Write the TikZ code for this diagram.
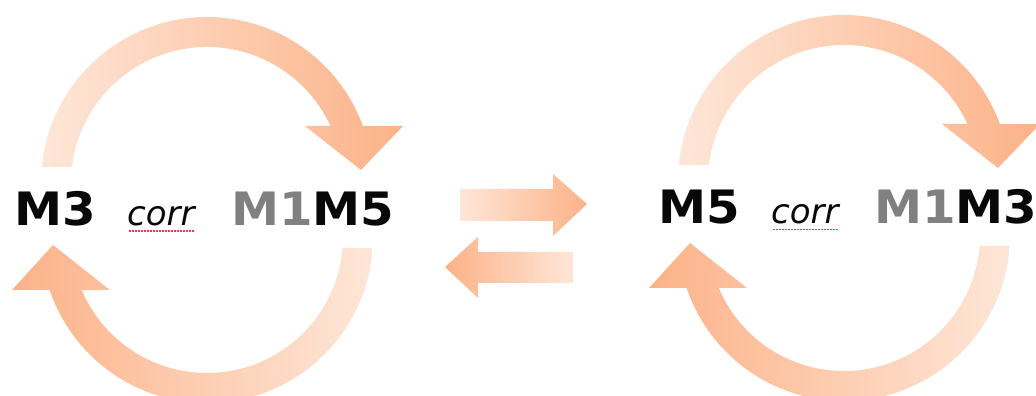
\documentclass[tikz,border=0pt]{standalone}
\usepackage{fontspec}
\setmainfont{DejaVu Sans}
\newfontfamily\bigfont{DejaVu Sans}[FakeStretch=1.05]
\definecolor{pale}{RGB}{254,230,216}
\definecolor{sat}{RGB}{252,178,136}
\definecolor{midgray}{RGB}{128,128,128}
\definecolor{txtblack}{RGB}{8,8,8}
\definecolor{spellred}{RGB}{230,60,80}
\tikzset{
  bigtxt/.style={font=\bigfont\fontsize{46}{46}\selectfont\bfseries, inner sep=0pt, text=txtblack},
  corrtxt/.style={font=\fontsize{34}{34}\selectfont\itshape, inner sep=0pt, text=txtblack},
  spell/.style={draw=spellred, line width=1.2pt, dash pattern=on 1.5pt off 1.5pt},
  toparc/.style={left color=pale, right color=sat, draw=none},
  botarc/.style={left color=sat, right color=pale, draw=none},
  toparrow/.pic={
    \shade[toparc] (173.24:136) -- (174.47:166)
      arc[start angle=174.47, end angle=20.08, radius=166]
      -- (196,57) -- (154,13) -- (98,57) -- (24.78:136)
      arc[start angle=24.78, end angle=173.24, radius=136] -- cycle;
  },
  botarrow/.pic={
    \shade[botarc] (-3.8:166)
      arc[start angle=-3.8, end angle=-161.4, radius=166]
      -- (-195,-53) -- (-154,-8) -- (-97,-53) -- (-157.1:136)
      arc[start angle=-157.1, end angle=-4.64, radius=136] -- cycle;
  }
}
\begin{document}
\begin{tikzpicture}[x=1pt,y=1pt]
\useasboundingbox (0,0) rectangle (1036,396);
\clip (0,0) rectangle (1036,396);
% left cycle
\pic at (207,213) {toparrow};
\pic at (207,159) {botarrow};
% right cycle
\pic at (844,215) {toparrow};
\pic at (844,161) {botarrow};
% middle arrows
\shade[left color=pale, right color=sat] (460,175) -- (553,175) -- (553,160) -- (587,192) -- (553,222) -- (553,207) -- (460,207) -- cycle;
\shade[left color=sat, right color=pale] (573,113) -- (478,113) -- (478,98) -- (445,129) -- (478,159) -- (478,144) -- (573,144) -- cycle;
% texts left
\node[bigtxt, anchor=base west] (m3) at (14.5,170.5) {M3};
\node[corrtxt, anchor=base west] (corrL) at (127,170.5) {corr};
\node[bigtxt, anchor=base west] (m1m5) at (231,170.5) {\textcolor{midgray}{M1}M5};
\draw[spell] ([yshift=-5.5pt,xshift=2pt]corrL.base west) -- ([yshift=-5.5pt]corrL.base east);
% texts right
\node[bigtxt, anchor=base west] (m5) at (658.5,172) {M5};
\node[corrtxt, anchor=base west] (corrR) at (771,172) {corr};
\node[bigtxt, anchor=base west] (m1m3) at (874,172) {\textcolor{midgray}{M1}M3};
\draw[spell] ([yshift=-5.5pt,xshift=2pt]corrR.base west) -- ([yshift=-5.5pt]corrR.base east);
\end{tikzpicture}
\end{document}
